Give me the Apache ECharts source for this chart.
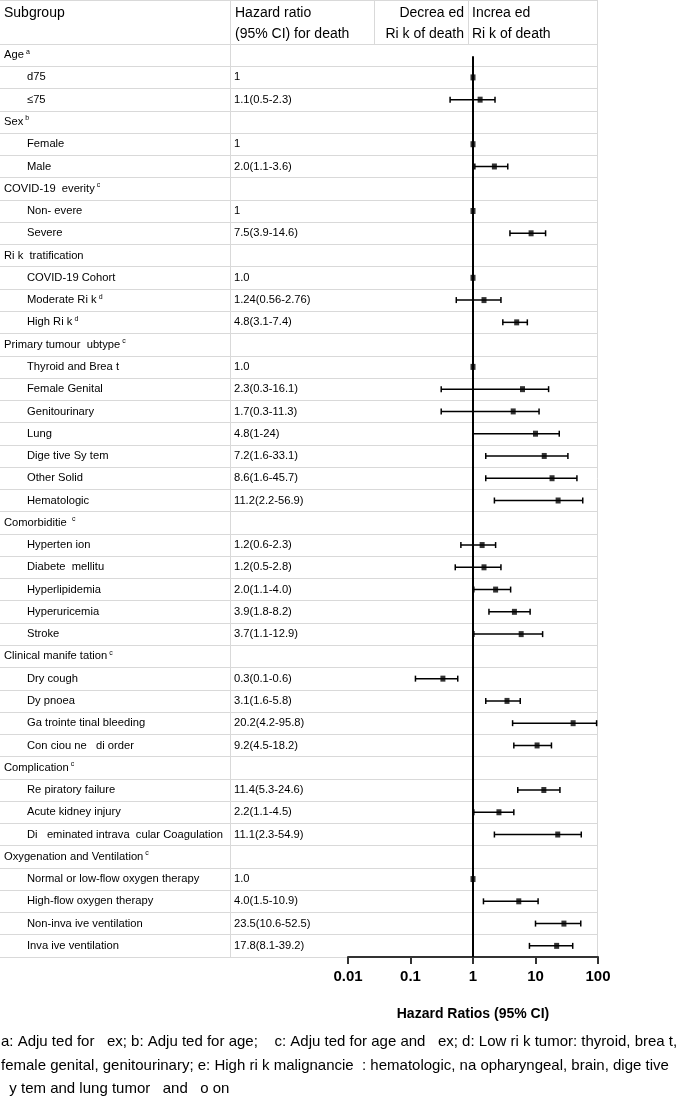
<!DOCTYPE html>
<html>
<head>
<meta charset="utf-8">
<script src="https://cdn.jsdelivr.net/npm/echarts@6/dist/echarts.min.js"></script>
<style>
  html, body { margin: 0; padding: 0; background: #fff; }
  #chart { width: 682px; height: 1102px; }
</style>
</head>
<body>
<div id="chart"></div>
<script>
// subgroup column (text as printed, the lowercase "s" glyphs are lost in the source)
const subgroups = [
  'Age', 'd75', '≤75',
  'Sex', 'Female', 'Male',
  'COVID-19  everity', 'Non- evere', 'Severe',
  'Ri k  tratification', 'COVID-19 Cohort', 'Moderate Ri k', 'High Ri k',
  'Primary tumour  ubtype', 'Thyroid and Brea t', 'Female Genital', 'Genitourinary', 'Lung',
  'Dige tive Sy tem', 'Other Solid', 'Hematologic',
  'Comorbiditie ', 'Hyperten ion', 'Diabete  mellitu', 'Hyperlipidemia', 'Hyperuricemia', 'Stroke',
  'Clinical manife tation', 'Dry cough', 'Dy pnoea', 'Ga trointe tinal bleeding', 'Con ciou ne   di order',
  'Complication', 'Re piratory failure', 'Acute kidney injury', 'Di   eminated intrava  cular Coagulation',
  'Oxygenation and Ventilation', 'Normal or low-flow oxygen therapy', 'High-flow oxygen therapy',
  'Non-inva ive ventilation', 'Inva ive ventilation'
];
const isGroup = [
  1, 0, 0,
  1, 0, 0,
  1, 0, 0,
  1, 0, 0, 0,
  1, 0, 0, 0, 0, 0, 0, 0,
  1, 0, 0, 0, 0, 0,
  1, 0, 0, 0, 0,
  1, 0, 0, 0,
  1, 0, 0, 0, 0
];
const notes = [
  'a', '', '',
  'b', '', '',
  'c', '', '',
  '', '', 'd', 'd',
  'c', '', '', '', '', '', '', '',
  'c', '', '', '', '', '',
  'c', '', '', '', '',
  'c', '', '', '',
  'c', '', '', '', ''
];
const hrText = [
  '', '1', '1.1(0.5-2.3)',
  '', '1', '2.0(1.1-3.6)',
  '', '1', '7.5(3.9-14.6)',
  '', '1.0', '1.24(0.56-2.76)', '4.8(3.1-7.4)',
  '', '1.0', '2.3(0.3-16.1)', '1.7(0.3-11.3)', '4.8(1-24)', '7.2(1.6-33.1)', '8.6(1.6-45.7)', '11.2(2.2-56.9)',
  '', '1.2(0.6-2.3)', '1.2(0.5-2.8)', '2.0(1.1-4.0)', '3.9(1.8-8.2)', '3.7(1.1-12.9)',
  '', '0.3(0.1-0.6)', '3.1(1.6-5.8)', '20.2(4.2-95.8)', '9.2(4.5-18.2)',
  '', '11.4(5.3-24.6)', '2.2(1.1-4.5)', '11.1(2.3-54.9)',
  '', '1.0', '4.0(1.5-10.9)', '23.5(10.6-52.5)', '17.8(8.1-39.2)'
];
// plotted marks
const hrPoint = [
  null, 1, 1.3,
  null, 1, 2.2,
  null, 1, 8.5,
  null, 1, 1.5, 5.0,
  null, 1, 6.2, 4.4, 10.0, 13.8, 18.4, 23,
  null, 1.4, 1.5, 2.3, 4.6, 5.9,
  null, 0.33, 3.5, 40, 10.6,
  null, 13.6, 2.6, 22.7,
  null, 1, 5.4, 28.5, 21.8
];
const ciLow = [
  null, null, 0.43,
  null, null, 1.07,
  null, null, 3.9,
  null, null, 0.54, 3.0,
  null, null, 0.31, 0.31, 1.0, 1.6, 1.6, 2.2,
  null, 0.64, 0.52, 1.03, 1.8, 1.03,
  null, 0.12, 1.6, 4.3, 4.5,
  null, 5.2, 1.03, 2.2,
  null, null, 1.47, 10.0, 8.0
];
const ciHigh = [
  null, null, 2.25,
  null, null, 3.6,
  null, null, 14.5,
  null, null, 2.8, 7.4,
  null, null, 16.2, 11.4, 24, 33, 46, 57,
  null, 2.3, 2.8, 4.0, 8.2, 13,
  null, 0.57, 5.7, 95, 18,
  null, 24.6, 4.5, 54,
  null, null, 11, 53, 39.4
];
const xTicks = [0.01, 0.1, 1, 10, 100];

const footer = [
  'a: Adju ted for   ex; b: Adju ted for age;    c: Adju ted for age and   ex; d: Low ri k tumor: thyroid, brea t,',
  'female genital, genitourinary; e: High ri k malignancie  : hematologic, na opharyngeal, brain, dige tive',
  '  y tem and lung tumor   and   o on'
];

const FONT = '"Liberation Sans", Arial, sans-serif';
const gridColor = '#d9d9d9';
const tableTop = 44, tableBottom = 957;
const rowFont = 11.2;

const chart = echarts.init(document.getElementById('chart'));

const ciData = [];
const pointData = [];
subgroups.forEach((s, i) => {
  if (ciLow[i] != null) ciData.push([ciLow[i], ciHigh[i], i]);
  if (hrPoint[i] != null) pointData.push([hrPoint[i], i]);
});

const gridBox = { top: tableTop, height: tableBottom - tableTop };
const rowAxis = (gridIndex, extra) => Object.assign({
  type: 'category',
  gridIndex: gridIndex,
  data: subgroups,
  inverse: true,
  axisLine: { show: false },
  axisTick: { show: false },
  axisLabel: { show: false },
  splitLine: { show: true, lineStyle: { color: gridColor, width: 1 } }
}, extra);

const headerText = (text, x, y, align) => ({
  type: 'text', x: x, y: y,
  style: { text: text, font: '14px ' + FONT, fill: '#000', align: align, verticalAlign: 'middle' }
});
const vline = (x, y1, y2) => ({
  type: 'line', shape: { x1: x, y1: y1, x2: x, y2: y2 },
  style: { stroke: gridColor, lineWidth: 1 }
});

const option = {
  animation: false,
  backgroundColor: '#fff',
  textStyle: { fontFamily: FONT },
  grid: [
    Object.assign({ left: 0, width: 230 }, gridBox),
    Object.assign({ left: 230, width: 118 }, gridBox),
    Object.assign({ left: 348, width: 250 }, gridBox)
  ],
  xAxis: [
    { type: 'value', gridIndex: 0, show: false },
    { type: 'value', gridIndex: 1, show: false },
    {
      type: 'log', gridIndex: 2, logBase: 10,
      min: xTicks[0], max: xTicks[xTicks.length - 1],
      position: 'bottom',
      axisLine: { show: true, lineStyle: { color: '#333', width: 2 } },
      axisTick: { show: true, length: 7, lineStyle: { color: '#333', width: 2 } },
      axisLabel: {
        margin: 12, fontSize: 15, fontWeight: 'bold', color: '#000', fontFamily: FONT,
        formatter: (v) => String(v)
      },
      splitLine: { show: false },
      name: 'Hazard Ratios (95% CI)',
      nameLocation: 'middle',
      nameGap: 50,
      nameTextStyle: { fontSize: 14, fontWeight: 'bold', color: '#000', fontFamily: FONT }
    }
  ],
  yAxis: [
    rowAxis(0, {
      axisLabel: {
        show: true, inside: true, margin: 4, align: 'left', color: '#000',
        formatter: (v, i) => {
          const head = isGroup[i] ? '{g|' + v + '}' : '{i|' + v + '}';
          return notes[i] ? head + '{sup|' + notes[i] + '}' : head;
        },
        rich: {
          g: { fontSize: rowFont, fontFamily: FONT, color: '#000', lineHeight: 14 },
          i: { fontSize: rowFont, fontFamily: FONT, color: '#000', lineHeight: 14, padding: [0, 0, 0, 23] },
          sup: { fontSize: 7, fontFamily: FONT, color: '#000', verticalAlign: 'top', lineHeight: 14, padding: [0, 0, 0, 2] }
        }
      }
    }),
    rowAxis(1, {
      axisLabel: {
        show: true, inside: true, margin: 4, align: 'left', color: '#000',
        fontSize: rowFont, fontFamily: FONT,
        formatter: (v, i) => hrText[i]
      }
    }),
    rowAxis(2)
  ],
  graphic: [
    { type: 'line', shape: { x1: 0, y1: 0.5, x2: 598, y2: 0.5 }, style: { stroke: gridColor, lineWidth: 1 } },
    vline(230.5, 0, tableBottom),
    vline(374.5, 0, tableTop),
    vline(468.5, 0, tableTop),
    vline(597.5, 0, tableBottom),
    headerText('Subgroup', 4, 13, 'left'),
    headerText('Hazard ratio', 235, 13, 'left'),
    headerText('(95% CI) for death', 235, 34, 'left'),
    headerText('Decrea ed', 464, 13, 'right'),
    headerText('Ri k of death', 464, 34, 'right'),
    headerText('Increa ed', 472, 13, 'left'),
    headerText('Ri k of death', 472, 34, 'left')
  ].concat(footer.map((t, k) => ({
    type: 'text', x: 1, y: 1042 + k * 23.5,
    style: { text: t, font: '15px ' + FONT, fill: '#000', align: 'left', verticalAlign: 'middle' }
  }))),
  series: [
    {
      // line of no effect at HR = 1
      type: 'custom',
      xAxisIndex: 2, yAxisIndex: 2,
      data: [[1, 0]],
      silent: true,
      z: 3,
      renderItem: (params, api) => {
        const p = api.coord([api.value(0), api.value(1)]);
        const cs = params.coordSys;
        return {
          type: 'line',
          shape: { x1: p[0], y1: p[1] + 1, x2: p[0], y2: cs.y + cs.height },
          style: { stroke: '#000', lineWidth: 2 }
        };
      }
    },
    {
      // 95% CI whiskers
      type: 'custom',
      xAxisIndex: 2, yAxisIndex: 2,
      data: ciData,
      encode: { x: [0, 1], y: 2 },
      z: 4,
      renderItem: (params, api) => {
        const a = api.coord([api.value(0), api.value(2)]);
        const b = api.coord([api.value(1), api.value(2)]);
        const h = 3;
        const st = { stroke: '#000', lineWidth: 1.5 };
        return {
          type: 'group',
          children: [
            { type: 'line', shape: { x1: a[0], y1: a[1], x2: b[0], y2: b[1] }, style: st },
            { type: 'line', shape: { x1: a[0], y1: a[1] - h, x2: a[0], y2: a[1] + h }, style: st },
            { type: 'line', shape: { x1: b[0], y1: b[1] - h, x2: b[0], y2: b[1] + h }, style: st }
          ]
        };
      }
    },
    {
      type: 'scatter',
      xAxisIndex: 2, yAxisIndex: 2,
      data: pointData,
      symbol: 'rect',
      symbolSize: [5, 6],
      itemStyle: { color: '#000' },
      z: 5
    }
  ]
};

chart.setOption(option);
</script>
</body>
</html>
